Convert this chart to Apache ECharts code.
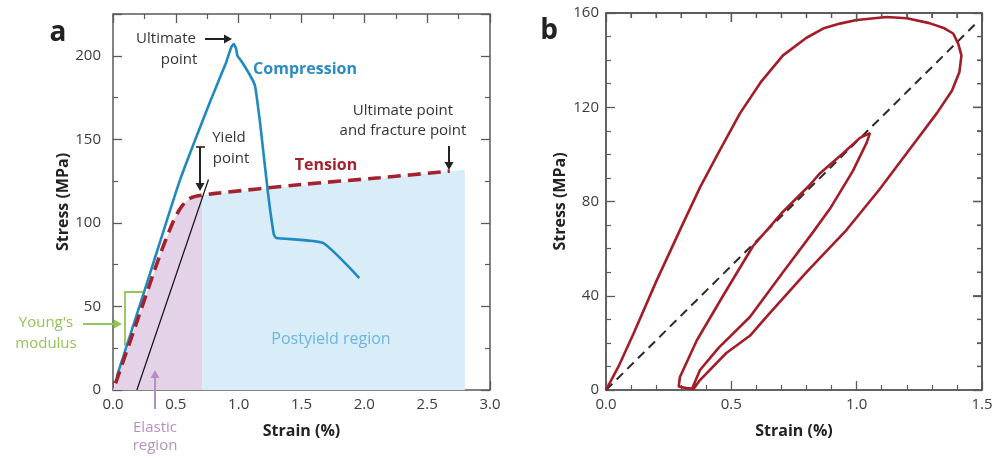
<!DOCTYPE html>
<html>
<head>
<meta charset="utf-8">
<script src="https://cdn.jsdelivr.net/npm/echarts@6/dist/echarts.min.js"></script>
<style>
  html, body { margin: 0; padding: 0; background: #fff; overflow: hidden; }
  #chart { width: 1002px; height: 459px; }
</style>
</head>
<body>
<div id="chart"></div>
<script>
// panel a : stress-strain, [strain %, stress MPa]
var compression = [[0.03, 8], [0.3, 71], [0.53, 125], [0.77, 172], [0.9, 196], [0.94, 205], [0.96, 207],
    [0.98, 204], [0.99, 200], [1.02, 197], [1.1, 187], [1.13, 182], [1.17, 160], [1.2, 140], [1.23, 120],
    [1.25, 108], [1.28, 93], [1.3, 91], [1.67, 88], [1.96, 67]];
var tension = [[0.02, 4], [0.2, 43], [0.37, 80], [0.48, 101], [0.53, 108], [0.57, 112], [0.62, 115],
    [0.7, 116.5], [0.8, 117.5], [1.5, 123], [2.12, 127], [2.68, 131]];
var elasticRegion = [[0, 0], [0.02, 4], [0.2, 43], [0.37, 80], [0.48, 101], [0.53, 108], [0.57, 112],
    [0.62, 115], [0.71, 116.6]];
var postyieldRegion = [[0.71, 116.6], [2.8, 131.8]];
var yieldOffset = [[0.19, 0], [0.76, 126]];

// panel b : loading / unloading loops
var hysteresis = [[0, 0], [0.05, 10], [0.11, 24], [0.2, 46], [0.3, 69], [0.375, 86], [0.45, 101], [0.535, 117.5],
    [0.62, 131], [0.706, 142], [0.8, 149.5], [0.866, 153.4], [0.933, 155.5], [1.0, 157], [1.12, 158.3],
    [1.2, 157.8], [1.29, 155.7], [1.35, 153.5], [1.385, 151.3], [1.405, 147], [1.418, 142], [1.41, 135],
    [1.38, 127], [1.32, 117.5], [1.21, 102], [1.09, 85], [0.96, 68], [0.8, 50], [0.64, 31], [0.574, 23],
    [0.48, 15.7], [0.375, 4.2], [0.35, 0.5], [0.32, 0.8], [0.29, 1.5], [0.295, 5.5], [0.362, 21], [0.467, 40],
    [0.586, 61], [0.7, 75], [0.813, 87], [0.854, 92], [0.946, 100.5], [1.013, 107], [1.053, 109], [1.04, 105],
    [0.985, 93], [0.894, 77], [0.826, 67], [0.706, 50], [0.574, 31], [0.45, 18], [0.375, 8.5], [0.345, 1]];
var referenceLine = [[0, 0], [1.48, 156]];

var FONT = '"Open Sans", sans-serif';
var AXIS_COLOR = '#5a5a5a';
var GRID_A = { left: 113, top: 14, width: 377, height: 376 };
var GRID_B = { left: 606, top: 13, width: 376, height: 377 };
var chart = echarts.init(document.getElementById('chart'));

function frameAxis(extra) {
    var base = {
        type: 'value',
        axisLine: { show: true, onZero: false, lineStyle: { color: AXIS_COLOR, width: 1.5 } },
        axisTick: { show: true, inside: true, length: 9, lineStyle: { color: AXIS_COLOR, width: 1.3 } },
        minorTick: { show: false },
        splitLine: { show: false },
        axisLabel: { show: false }
    };
    return Object.assign(base, extra);
}
var tickLabel = { show: true, color: '#3c3c3c', fontSize: 15, fontFamily: FONT };
var axisName = { color: '#222', fontSize: 16, fontWeight: 'bold', fontFamily: FONT };
var minorStyle = { color: AXIS_COLOR, width: 1.2 };
function minor(n) { return { show: true, splitNumber: n, length: 5, lineStyle: minorStyle }; }
function oneDecimal(v) { return v.toFixed(1); }

function text(str, x, y, color, size, bold) {
    return {
        type: 'text', x: x, y: y, z: 100,
        style: { text: str, fill: color, font: (bold ? 'bold ' : '') + size + 'px ' + FONT,
                 align: 'center', verticalAlign: 'middle' }
    };
}
function seg(x1, y1, x2, y2, color, w) {
    return { type: 'line', z: 100, shape: { x1: x1, y1: y1, x2: x2, y2: y2 }, style: { stroke: color, lineWidth: w } };
}
function arrow(x1, y1, x2, y2, color) {
    var a = Math.atan2(y2 - y1, x2 - x1), h = 8, w = 4.5;
    var bx = x2 - h * Math.cos(a), by = y2 - h * Math.sin(a);
    return [
        seg(x1, y1, bx, by, color, 2),
        { type: 'polygon', z: 100, shape: { points: [[x2, y2],
            [bx + w * Math.sin(a), by - w * Math.cos(a)], [bx - w * Math.sin(a), by + w * Math.cos(a)]] },
          style: { fill: color } }
    ];
}

// top and right edge of panel b with inward ticks (0.1 % strain, 10 MPa steps)
function frameB() {
    var g = GRID_B, r = g.left + g.width, t = g.top, b = g.top + g.height, out = [];
    out.push(seg(g.left, t, r, t, AXIS_COLOR, 1.5));
    out.push(seg(r, t, r, b, AXIS_COLOR, 1.5));
    for (var k = 0; k <= 15; k++) {
        var x = g.left + g.width * k / 15;
        out.push(seg(x, t, x, t + (k % 5 === 0 ? 9 : 5), AXIS_COLOR, 1.3));
    }
    for (var j = 0; j <= 16; j++) {
        var y = b - g.height * j / 16;
        out.push(seg(r, y, r - (j % 4 === 0 ? 9 : 5), y, AXIS_COLOR, 1.3));
    }
    return out;
}

var GREEN = '#93c456', PURPLE = '#b68fc2';
var graphics = [
    text('a', 58, 33, '#222', 28, true),
    text('b', 549, 31, '#222', 28, true),
    text('Ultimate', 166, 39, '#333', 15),
    text('point', 179, 60, '#333', 15),
    text('Compression', 305, 69, '#2a8cc2', 16, true),
    text('Yield', 229, 138, '#333', 15),
    text('point', 231, 159, '#333', 15),
    text('Tension', 326, 165, '#a3222e', 16, true),
    text('Ultimate point', 403, 111, '#333', 15),
    text('and fracture point', 403, 131, '#333', 15),
    text('Postyield region', 331, 339, '#6ab6dc', 16),
    text("Young's", 46, 323, GREEN, 15),
    text('modulus', 46, 344, GREEN, 15),
    text('Elastic', 155, 428, PURPLE, 15),
    text('region', 155, 446, PURPLE, 15),
    { type: 'polyline', z: 100, shape: { points: [[143, 292], [125, 292], [125, 346]] },
      style: { stroke: GREEN, lineWidth: 1.8, fill: null } },
    seg(196, 147, 205, 147, '#222', 1.6)
].concat(
    arrow(205, 39, 232, 39, '#222'),
    arrow(200, 147, 200, 191, '#222'),
    arrow(449, 146, 449, 170, '#222'),
    arrow(83, 324, 122, 324, GREEN),
    arrow(155, 409, 155, 370, PURPLE),
    frameB()
);

var option = {
    animation: false,
    backgroundColor: '#fff',
    grid: [
        Object.assign({ outerBoundsMode: 'none' }, GRID_A),
        Object.assign({ outerBoundsMode: 'none', show: true, borderColor: AXIS_COLOR, borderWidth: 1.5,
                        backgroundColor: 'transparent' }, GRID_B)
    ],
    xAxis: [
        frameAxis({ gridIndex: 0, position: 'bottom', min: 0, max: 3, interval: 0.5, minorTick: minor(2),
            axisLabel: Object.assign({ margin: 7, formatter: oneDecimal }, tickLabel),
            name: 'Strain (%)', nameLocation: 'middle', nameGap: 33, nameTextStyle: axisName }),
        frameAxis({ gridIndex: 0, position: 'top', min: 0, max: 3, interval: 0.5, minorTick: minor(2) }),
        frameAxis({ gridIndex: 1, position: 'bottom', min: 0, max: 1.5, interval: 0.5, minorTick: minor(5),
            axisLabel: Object.assign({ margin: 7, formatter: oneDecimal }, tickLabel),
            name: 'Strain (%)', nameLocation: 'middle', nameGap: 33, nameTextStyle: axisName }),
        frameAxis({ gridIndex: 1, position: 'top', min: 0, max: 1.5, interval: 0.5, minorTick: minor(5) })
    ],
    yAxis: [
        frameAxis({ gridIndex: 0, position: 'left', min: 0, max: 225, interval: 50, minorTick: minor(2),
            axisLabel: Object.assign({ margin: 12, formatter: function (v) { return v % 50 === 0 ? v : ''; } }, tickLabel),
            name: 'Stress (MPa)', nameLocation: 'middle', nameGap: 42, nameTextStyle: axisName }),
        frameAxis({ gridIndex: 0, position: 'right', min: 0, max: 225, interval: 50, minorTick: minor(2) }),
        frameAxis({ gridIndex: 1, position: 'left', min: 0, max: 160, interval: 40, minorTick: minor(4),
            axisLabel: Object.assign({ margin: 7 }, tickLabel),
            name: 'Stress (MPa)', nameLocation: 'middle', nameGap: 38, nameTextStyle: axisName }),
        frameAxis({ gridIndex: 1, position: 'right', min: 0, max: 160, interval: 40, minorTick: minor(4) })
    ],
    series: [
        { type: 'line', name: 'Elastic region', xAxisIndex: 0, yAxisIndex: 0, data: elasticRegion,
          showSymbol: false, lineStyle: { width: 0 }, areaStyle: { color: '#e4d2e8', opacity: 1 }, z: 1 },
        { type: 'line', name: 'Postyield region', xAxisIndex: 0, yAxisIndex: 0, data: postyieldRegion,
          showSymbol: false, lineStyle: { width: 0 }, areaStyle: { color: '#d9edf9', opacity: 1 }, z: 1 },
        { type: 'line', name: 'Offset', xAxisIndex: 0, yAxisIndex: 0, data: yieldOffset,
          showSymbol: false, lineStyle: { color: '#111', width: 1.2 }, z: 3 },
        { type: 'line', name: 'Compression', xAxisIndex: 0, yAxisIndex: 0, data: compression, smooth: 0.15,
          showSymbol: false, lineStyle: { color: '#1f89c0', width: 2.6 }, z: 4 },
        { type: 'line', name: 'Tension', xAxisIndex: 0, yAxisIndex: 0, data: tension, smooth: 0.3,
          showSymbol: false, lineStyle: { color: '#a3222e', width: 3.6, type: [13, 7] }, z: 5 },
        { type: 'line', name: 'Reference', xAxisIndex: 2, yAxisIndex: 2, data: referenceLine,
          showSymbol: false, lineStyle: { color: '#2b2b2b', width: 2, type: [9, 6] }, z: 3 },
        { type: 'line', name: 'Hysteresis', xAxisIndex: 2, yAxisIndex: 2, data: hysteresis,
          showSymbol: false, lineStyle: { color: '#a31c28', width: 2.6 }, z: 4 }
    ],
    graphic: graphics
};
chart.setOption(option);
</script>
</body>
</html>
